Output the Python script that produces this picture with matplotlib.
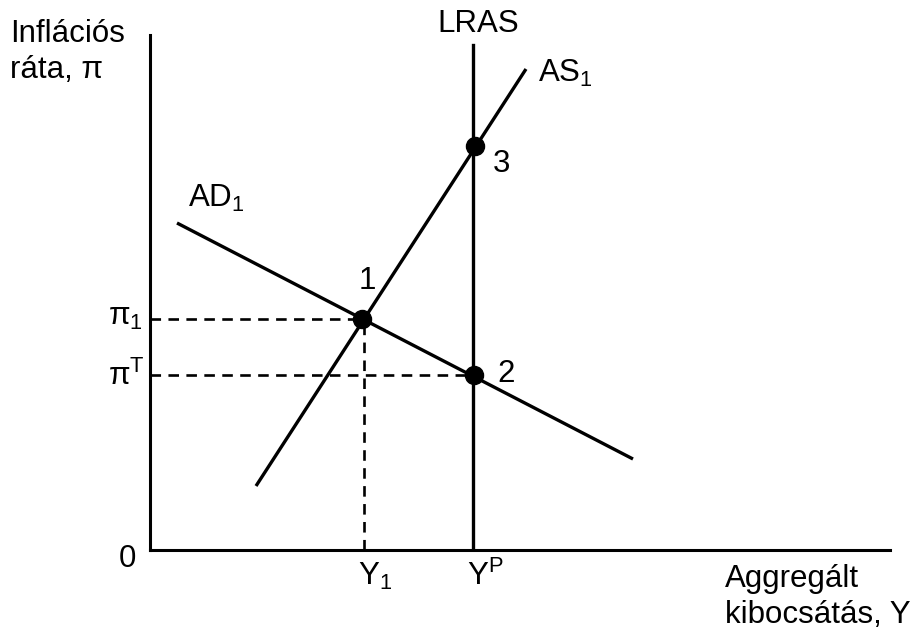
import matplotlib
matplotlib.use('Agg')
import matplotlib.pyplot as plt

plt.rcParams['font.family'] = ['Liberation Sans', 'DejaVu Sans']
plt.rcParams['mathtext.fontset'] = 'custom'
plt.rcParams['mathtext.rm'] = 'Liberation Sans'
plt.rcParams['mathtext.it'] = 'Liberation Sans'

# Curves (in axis units)
as_x = [106, 376]
as_y = [64, 481]
ad_x = [27, 483]
ad_y = [327, 91]
y_potential = 323
lras_top = 505

# Equilibrium points 1, 2, 3
eq_x = [212, 324, 325]
eq_y = [231, 175, 404]
eq_labels = ['1', '2', '3']

# Guide levels
y1 = 214
pi1 = 231
pi_t = 175

fig = plt.figure(figsize=(9.2, 6.41), dpi=100)
ax = fig.add_axes([150 / 920, 91 / 641, 740 / 920, 515 / 641])
ax.set_xlim(0, 740)
ax.set_ylim(0, 515)
for side in ['top', 'right']:
    ax.spines[side].set_visible(False)
for side in ['left', 'bottom']:
    ax.spines[side].set_linewidth(2.2)
ax.set_xticks([])
ax.set_yticks([])

lw = 2.4
ax.plot(as_x, as_y, color='black', lw=lw, solid_capstyle='butt')
ax.plot(ad_x, ad_y, color='black', lw=lw, solid_capstyle='butt')
ax.plot([y_potential, y_potential], [0, lras_top], color='black', lw=lw)

# dashed guides
dash = dict(color='black', lw=1.9, dashes=(4, 2.8))
ax.plot([0, eq_x[0]], [pi1, pi1], **dash)
ax.plot([y1, y1], [0, pi1], **dash)
ax.plot([0, eq_x[1]], [pi_t, pi_t], **dash)

ax.plot(eq_x, eq_y, 'o', color='black', markersize=13, zorder=5)

fs = 22.5
txt = dict(fontsize=fs, va='baseline', ha='left', clip_on=False)
ax.text(209, 261, eq_labels[0], **txt)
ax.text(347, 168, eq_labels[1], **txt)
ax.text(343, 378, eq_labels[2], **txt)

ax.text(328, 518, 'LRAS', fontsize=fs, va='baseline', ha='center', clip_on=False)
ax.text(388, 468, r'$\mathrm{AS}_1$', **txt)
ax.text(38, 343, r'$\mathrm{AD}_1$', **txt)

ax.text(-42, 225, r'$\mathrm{π}_1$', **txt)
ax.text(-42, 165, r'$\mathrm{π}^\mathrm{T}$', **txt)
ax.text(-31, -17, '0', **txt)
ax.text(208, -35, r'$\mathrm{Y}_1$', **txt)
ax.text(317, -35, r'$\mathrm{Y}^\mathrm{P}$', **txt)

ax.text(-140, 508, 'Inflációs', **txt)
ax.text(-140, 472, 'ráta, π', **txt)
ax.text(575, -37, 'Aggregált', **txt)
ax.text(575, -73, 'kibocsátás, Y', **txt)

fig.savefig('out.png', dpi=100)
